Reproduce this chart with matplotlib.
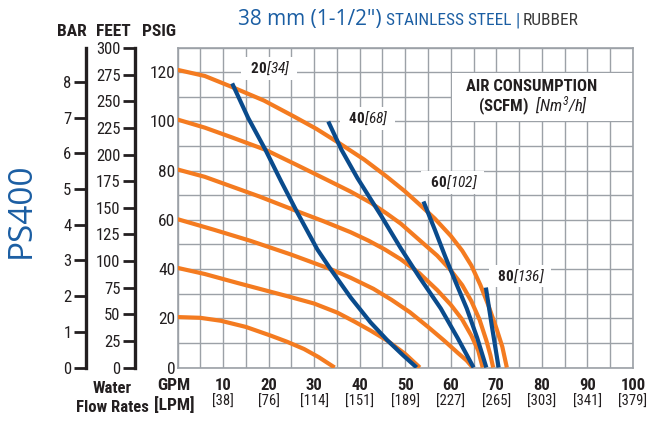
import numpy as np
import matplotlib.pyplot as plt
from matplotlib import font_manager
from matplotlib.patches import Rectangle

# curve data: GPM vs PSIG
# head curves, one per air inlet pressure (psi)
p20_x = [0, 5, 9.5, 15, 20.4, 24, 27.8, 31, 34.5]
p20_y = [20.5, 20.2, 19, 16.5, 13, 10.5, 7.5, 4.2, 0]
p40_x = [0, 6, 13.1, 19, 24.1, 30, 35.1, 39, 42.4, 46, 50, 53.2]
p40_y = [40.5, 38, 34.4, 31.5, 29, 26, 22.3, 18.5, 15, 11, 5.5, 0]
p60_x = [0, 8, 16, 24.8, 33.6, 38, 43, 47, 51, 55, 58.5, 61.5, 63.5, 64.8]
p60_y = [60.3, 56, 51.5, 46, 40, 36.5, 32, 27.5, 22.5, 16.5, 11, 6, 2.8, 0]
p80_x = [0, 6, 12, 18, 26.3, 32, 38, 42, 45.5, 49, 53, 57, 60, 62.5, 64.5, 66, 67]
p80_y = [80.5, 77.5, 73.5, 69.5, 63.5, 59.5, 55, 51.5, 48, 44, 38.5, 31.5, 25.5, 19.5, 13, 7, 0]
p100_x = [0, 6, 12, 19.3, 26, 32.9, 38, 42.4, 46, 49, 53.3, 57, 60, 62.5, 64.5, 66.3, 67.8, 68.7, 69.3]
p100_y = [100.8, 97.5, 93.5, 88.5, 82.5, 76.2, 71.5, 67, 62.5, 58.5, 51.5, 45.5, 39.5, 33.5, 27, 19.5, 11, 5, 0]
p120_x = [0, 6, 12, 19, 25.6, 30.5, 35.5, 41, 46, 50, 53, 56.5, 60, 62.5, 64.5, 66.5, 68.3, 70, 71.3, 72.3]
p120_y = [121, 118.5, 114, 108.5, 102, 97, 91.2, 84.5, 77.5, 71.5, 66.5, 60.5, 53.5, 47.5, 41.5, 33.5, 25, 16, 8.5, 0]

# air consumption curves (SCFM)
s20_x = [12, 15.5, 19.3, 22.8, 26.3, 30.7, 33.6, 38, 42.4, 46.1, 49.5, 52.5]
s20_y = [115.5, 101.5, 88.5, 75.5, 63, 48, 40, 28.5, 18.3, 11, 5, 0]
s40_x = [33.1, 36, 39.5, 44.6, 49, 53, 57.8, 61.5, 65]
s40_y = [100, 88.5, 77, 62, 48.5, 37, 24, 12, 0]
s60_x = [54, 56.5, 58.8, 61, 63.5, 65.8, 67.8]
s60_y = [67.5, 56, 45, 35, 24, 12, 0]
s80_x = [67.7, 69, 70.5]
s80_y = [32.5, 17, 0]

scfm_labels = ["20", "40", "60", "80"]
nm3h_labels = ["[34]", "[68]", "[102]", "[136]"]
label_pos = [(19.6, 121.6), (41.2, 101.3), (59.9, 75.1), (74.7, 37.2)]

gpm_ticks = [10, 20, 30, 40, 50, 60, 70, 80, 90, 100]
lpm_ticks = [38, 76, 114, 151, 189, 227, 265, 303, 341, 379]
psi_ticks = [0, 20, 40, 60, 80, 100, 120]
feet_ticks = list(range(0, 301, 25))
bar_ticks = list(range(0, 9))

ORANGE = "#f47b20"
BLUE = "#0a4b8c"
TITLE_BLUE = "#1b5ea3"
GRID = "#9ca1a7"
DARK = "#231f20"

# narrow font if there is one
fonts = font_manager.fontManager.ttflist
names = {f.name for f in fonts}
if "Roboto Condensed" in names:
    fam = "Roboto Condensed"
elif "Liberation Sans Narrow" in names:
    fam = "Liberation Sans Narrow"
else:
    fam = "Liberation Sans"
plt.rcParams["font.family"] = [fam, "DejaVu Sans"]
# mathtext: bf = bold, sf = italic (sf keeps digits/brackets italic too)
plt.rcParams["mathtext.fontset"] = "custom"
plt.rcParams["mathtext.rm"] = fam
plt.rcParams["mathtext.bf"] = fam + ":bold"
plt.rcParams["mathtext.it"] = fam + ":italic"
plt.rcParams["mathtext.sf"] = fam + ":italic"

W, H = 649, 423
fig = plt.figure(figsize=(W / 100, H / 100), dpi=100)
ax = fig.add_axes([177.5 / W, 55.5 / H, 455.5 / W, 319.8 / H])
ax.set_xlim(0, 100)
ax.set_ylim(0, 130)

ax.set_xticks(np.arange(0, 101, 5), minor=True)
ax.set_yticks(np.arange(0, 131, 10), minor=True)
ax.set_xticks(gpm_ticks)
ax.set_yticks(psi_ticks)
ax.grid(which="both", color=GRID, lw=1.0)
ax.set_axisbelow(True)
ax.tick_params(axis="x", which="both", length=0, labelbottom=False)
ax.tick_params(axis="y", which="both", length=0, pad=1.5, labelsize=12.5, colors=DARK)
for s in ax.spines.values():
    s.set_color(GRID)
    s.set_linewidth(1.2)

# white box behind the legend text
ax.add_patch(Rectangle((60.3, 100.4), 39.7, 19.2, fc="white", ec="none", zorder=1.5))

for x, y in [(p20_x, p20_y), (p40_x, p40_y), (p60_x, p60_y),
             (p80_x, p80_y), (p100_x, p100_y), (p120_x, p120_y)]:
    ax.plot(x, y, color=ORANGE, lw=3.0, solid_capstyle="butt", solid_joinstyle="round", zorder=3)
for x, y in [(s20_x, s20_y), (s40_x, s40_y), (s60_x, s60_y), (s80_x, s80_y)]:
    ax.plot(x, y, color=BLUE, lw=3.0, solid_capstyle="butt", solid_joinstyle="round", zorder=4)

box = dict(fc="white", ec="none", pad=2.0)
for (lx, ly), a, b in zip(label_pos, scfm_labels, nm3h_labels):
    ax.text(lx + 0.5, ly, "  $\\mathbf{" + a + "}\\mathsf{" + b + "}$  ", ha="center", va="center",
            fontsize=11, color=DARK, bbox=box, zorder=5)

ax.text(77.8, 114.4, "AIR CONSUMPTION", ha="center", va="center",
        fontsize=12, fontweight="bold", color=DARK, zorder=5)
ax.text(78.0, 106.0, r"$\mathbf{(SCFM)}\ \ \mathsf{[Nm^3/h]}$", ha="center", va="center",
        fontsize=12, color=DARK, zorder=5)

# bottom labels
xt = ax.get_xaxis_transform()
for g, l in zip(gpm_ticks, lpm_ticks):
    ax.text(g, -0.055, str(g), transform=xt, ha="center", va="center",
            fontsize=12, fontweight="bold", color=DARK)
    ax.text(g, -0.108, f"[{l}]", transform=xt, ha="center", va="center",
            fontsize=10.5, color=DARK)
ax.text(-0.8, -0.057, "GPM", transform=xt, ha="center", va="center",
        fontsize=12.5, fontweight="bold", color=DARK)
ax.text(-0.8, -0.117, "[LPM]", transform=xt, ha="center", va="center",
        fontsize=12.5, fontweight="bold", color=DARK)
fig.text(112 / W, 1 - 388 / H, "Water", ha="center", va="center",
         fontsize=12, fontweight="bold", color=DARK)
fig.text(149 / W, 1 - 407 / H, "Flow Rates", ha="right", va="center",
         fontsize=12, fontweight="bold", color=DARK)

# extra pressure scales on the left
feet = ax.secondary_yaxis(-(177.5 - 135) / 455.5, functions=(lambda p: p * 2.31, lambda f: f / 2.31))
bar = ax.secondary_yaxis(-(177.5 - 86) / 455.5, functions=(lambda p: p / 14.5, lambda b: b * 14.5))
feet.set_yticks(feet_ticks)
bar.set_yticks(bar_ticks)
for sa in (feet, bar):
    sa.spines["left"].set_linewidth(2.4)
    sa.spines["left"].set_color(DARK)
    sa.tick_params(length=9, width=2.0, pad=1.5, labelsize=12, colors=DARK)

for x, t in [(72, "BAR"), (113, "FEET"), (159, "PSIG")]:
    fig.text(x / W, 1 - 32 / H, t, ha="center", va="center",
             fontsize=12.5, fontweight="bold", color=DARK)

# title, pieces placed one after the other
r = fig.canvas.get_renderer()
xpos = 238
for txt, size, col, tfam, gap in [("38 mm (1-1/2\")", 15, TITLE_BLUE, "Open Sans", 4),
                                  ("STAINLESS STEEL", 12.5, TITLE_BLUE, fam, 4),
                                  ("|", 13, TITLE_BLUE, fam, 3),
                                  ("RUBBER", 12.5, "#3a3a3a", fam, 0)]:
    t = fig.text(xpos / W, 1 - 25 / H, txt, ha="left", va="baseline",
                 fontsize=size, color=col, family=tfam, stretch="normal")
    xpos = t.get_window_extent(r).x1 + gap

fig.text(21 / W, 1 - 210 / H, "PS400", rotation=90, ha="center", va="center",
         fontsize=24, color=TITLE_BLUE, family="Open Sans", stretch="normal")

fig.savefig("out.png", dpi=100)
